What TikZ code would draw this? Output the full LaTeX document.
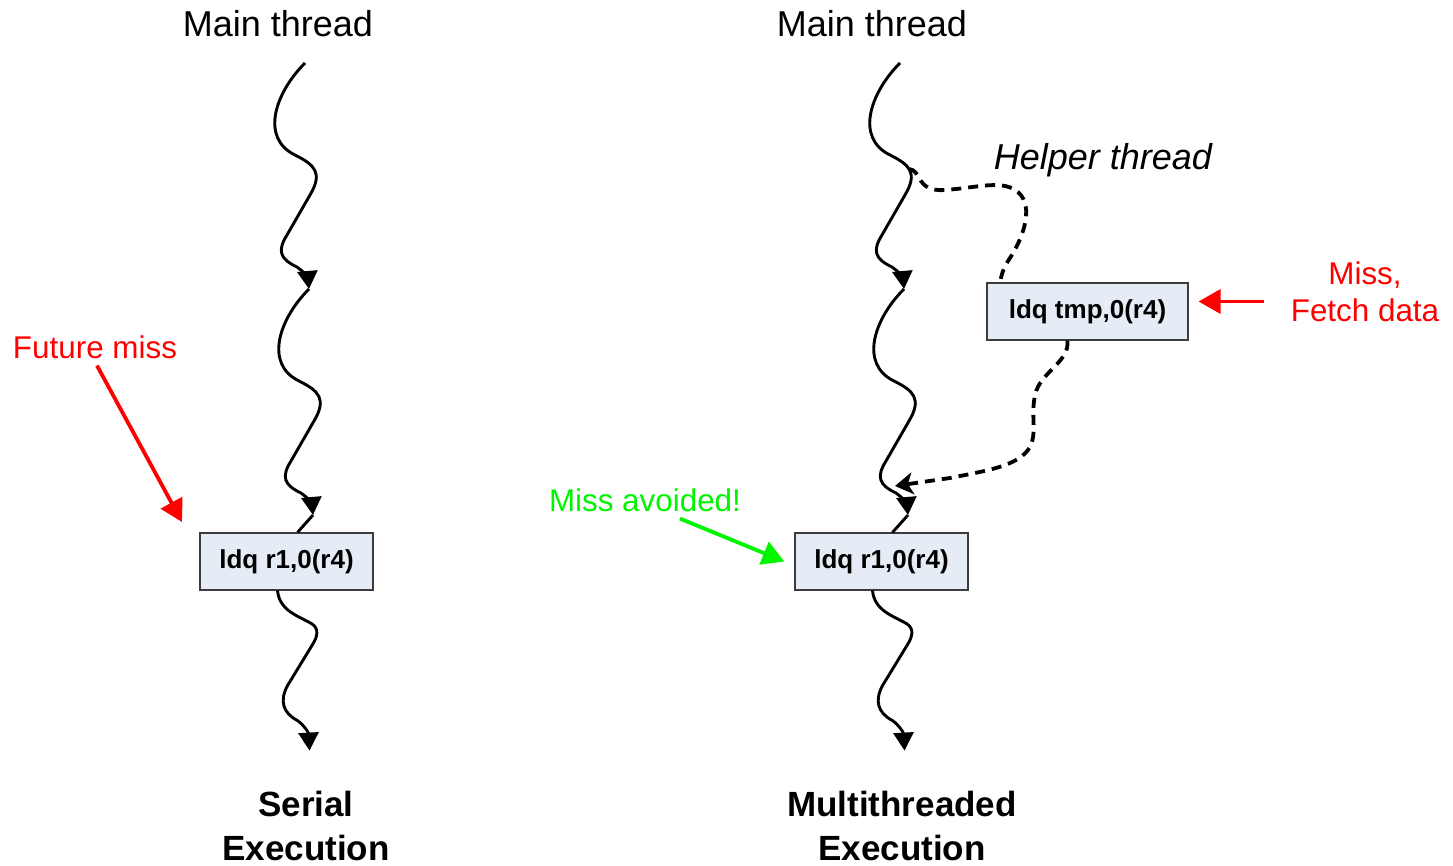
\documentclass[tikz,border=0pt]{standalone}
\usepackage{fontspec}
\setmainfont{Liberation Sans}
\usetikzlibrary{arrows.meta,calc}
\definecolor{boxfill}{RGB}{230,236,246}
\definecolor{boxline}{RGB}{60,60,60}
\definecolor{cred}{RGB}{255,0,0}
\definecolor{cgreen}{RGB}{0,245,0}
\tikzset{
  fig/.style={x=0.5pt,y=-0.5pt},
  title/.style={font=\fontsize{18}{21.6}\selectfont},
  caption/.style={align=center,font=\bfseries\fontsize{17.5}{22}\selectfont},
  note/.style={font=\fontsize{15.7}{18.5}\selectfont},
  ldq/.style={draw=boxline,line width=0.6pt,fill=boxfill,minimum width=86.5pt,
    minimum height=28.5pt,inner sep=0pt,font=\bfseries\fontsize{13}{15}\selectfont},
  threadline/.style={line width=1.45pt},
  thread/.style={threadline,-{Triangle[width=10pt,length=9pt]}},
  helper/.style={line width=1.9pt,dash pattern=on 5pt off 3.5pt,
    -{Stealth[width=11pt,length=9pt,inset=2.5pt]}},
  miss/.style={line width=1.9pt,-{Triangle[width=12pt,length=11pt]}},
  wave/.pic={
    \draw[thread] (0,0) .. controls (-30,30) and (-45,75) .. (-10,92)
      .. controls (10,102) and (18,110) .. (5,132) -- (-18,172)
      .. controls (-28,188) and (-25,196) .. (-8,204)
      .. controls (-2,208) and (3,215) .. (4,226);
    \coordinate (-bulge) at (9,106);
    \coordinate (-end) at (4,226);
  },
  tail/.pic={
    \draw[thread] (0,0) .. controls (2,20) and (20,25) .. (34,33)
      .. controls (42,38) and (40,46) .. (35,54) -- (10,95)
      .. controls (2,110) and (5,122) .. (20,130)
      .. controls (26,134) and (31,142) .. (32,160);
  },
}

\begin{document}
\begin{tikzpicture}[fig]
    \useasboundingbox (0,0) rectangle (1453,866);
    \node[title] (mainL) at (278,24) {Main thread};
    \node[title] (mainR) at (872,24) {Main thread};
    \node[title,font=\itshape\fontsize{18}{21.6}\selectfont] (helpername) at (1103,160) {Helper thread};
    \node[ldq] (ldqL) at (286.5,561.5) {ldq r1,0(r4)};
    \node[ldq] (ldqR) at (881.5,561.5) {ldq r1,0(r4)};
    \node[ldq,minimum width=100.5pt] (ldqH) at (1087.5,311.5) {ldq tmp,0(r4)};
    \node[caption] (serial) at (306,826) {Serial\\Execution};
    \node[caption] (multi) at (902,826) {Multithreaded\\Execution};
    \node[note,text=cred] (future) at (95,347) {Future miss};
    \node[note,text=cgreen] (avoided) at (645,500) {Miss avoided!};
    \node[note,text=cred,align=center] (fetch) at (1365,291.5) {Miss,\\Fetch data};
    \coordinate (sL) at (305,63);
    \coordinate (sR) at (900,63);
    \coordinate (futuretip) at (182,522);
    \coordinate (meet) at (895,486);
    \pic (wA) at (sL) {wave};
    \pic (wB) at (wA-end) {wave};
    \draw[threadline] (wB-end) -- ($(ldqL.north)+(11,0)$);
    \pic at ($(ldqL.south)+(-9,0)$) {tail};
    \pic (wC) at (sR) {wave};
    \pic (wD) at (wC-end) {wave};
    \draw[threadline] (wD-end) -- ($(ldqR.north)+(11,0)$);
    \pic at ($(ldqR.south)+(-9,0)$) {tail};
    \draw[helper,-] (wC-bulge) .. controls (922,170) and (915,192) .. (945,190)
        .. controls (975,188) and (1000,180) .. (1015,190)
        .. controls (1035,202) and (1025,235) .. (1010,258)
        .. controls (1003,268) and (1001,276) .. ($(ldqH.north west)+(14,0)$);
    \draw[helper] ($(ldqH.south west)+(81,0)$) .. controls (1070,362) and (1040,372) .. (1035,395)
        .. controls (1031,415) and (1036,428) .. (1032,442)
        .. controls (1025,465) and (990,470) .. (950,478) -- (meet);
    \draw[miss,cred] ($(future.south)+(2,0)$) -- (futuretip);
    \draw[miss,cgreen] ($(avoided.south)+(35,0)$) -- ($(ldqR.west)+(-10,0)$);
    \draw[miss,cred] ($(fetch.west)+(-20,10)$) -- ($(ldqH.east)+(10,-10)$);
\end{tikzpicture}
\end{document}
